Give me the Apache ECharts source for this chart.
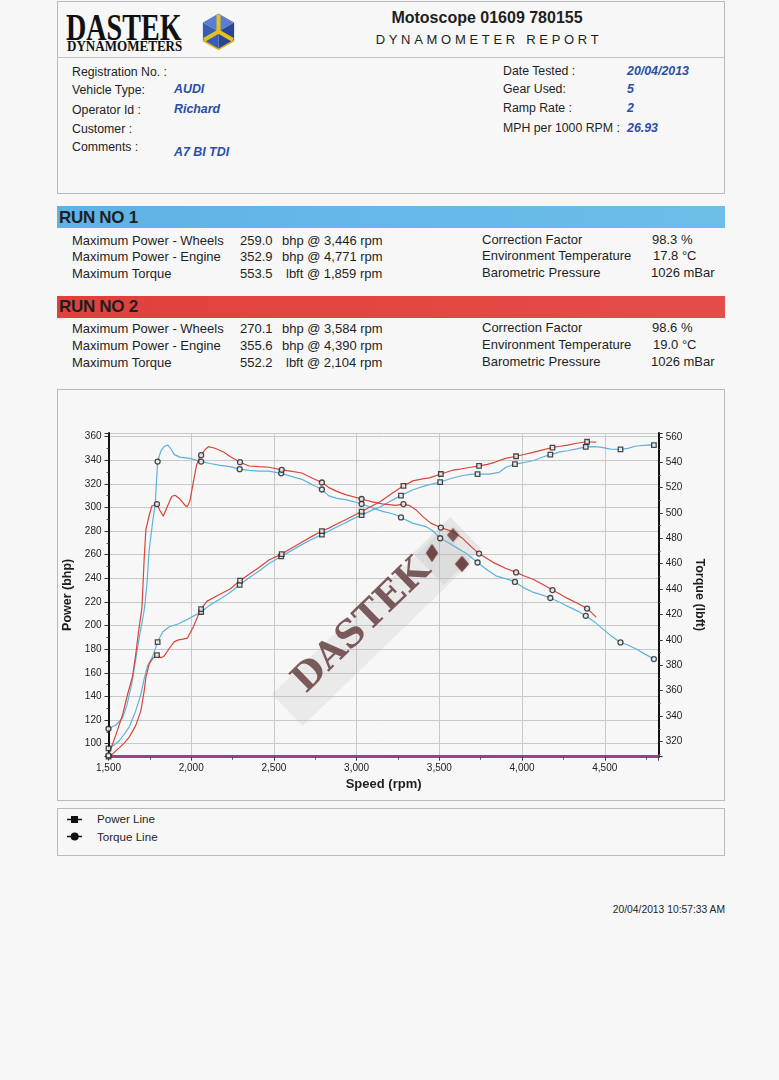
<!DOCTYPE html>
<html>
<head>
<meta charset="utf-8">
<script src="https://cdn.jsdelivr.net/npm/echarts@6.0.0/dist/echarts.min.js"></script>
<style>
  html, body { margin:0; padding:0; }
  body { width:779px; height:1080px; position:relative; overflow:hidden; background:#f6f7f6;
         font-family:"Liberation Sans", Arial, sans-serif; color:#1f1f1f; }
  .t { position:absolute; white-space:nowrap; line-height:16px; }
  .box { position:absolute; border:1px solid #b7bbbb; box-sizing:border-box; }
  .lbl { font-size:12.3px; }
  .val { font-size:12.4px; font-weight:bold; font-style:italic; color:#2c4ea6; }
  .row { font-size:13px; }
  .runbar { position:absolute; left:57px; width:668px; height:22px; }
  .runtitle { font-size:17px; font-weight:bold; letter-spacing:-0.3px; }
  #chart { position:absolute; left:0; top:0; width:779px; height:1080px; }
</style>
</head>
<body>
<!-- header box -->
<div class="box" style="left:57px;top:1px;width:668px;height:193px;"></div>
<div style="position:absolute;left:57px;top:57px;width:668px;height:1px;background:#c0c4c4;"></div>

<!-- logo -->
<div class="t" style="left:66px;top:9px;line-height:36px;font-family:'Liberation Serif',serif;font-weight:bold;font-size:38px;transform:scaleX(0.74);transform-origin:0 0;color:#111;">DASTEK</div>
<div class="t" style="left:67px;top:38px;line-height:16px;font-family:'Liberation Serif',serif;font-weight:bold;font-size:15px;transform:scaleX(0.87);transform-origin:0 0;color:#111;">DYNAMOMETERS</div>
<svg style="position:absolute;left:200px;top:12px;" width="38" height="40" viewBox="0 0 38 40">
  <polygon points="18.5,1.5 34.1,10.5 18.5,19.5 2.9,10.5" fill="#5b7fd0"/>
  <polygon points="2.9,10.5 18.5,19.5 18.5,37.5 2.9,28.5" fill="#3a5cb5"/>
  <polygon points="34.1,10.5 34.1,28.5 18.5,37.5 18.5,19.5" fill="#2b4596"/>
  <line x1="18.5" y1="19.5" x2="18.5" y2="2.5" stroke="#e3c21c" stroke-width="4"/>
  <line x1="18.5" y1="19.5" x2="4" y2="28" stroke="#e3c21c" stroke-width="4"/>
  <line x1="18.5" y1="19.5" x2="33" y2="28" stroke="#e3c21c" stroke-width="4"/>
  <polyline points="2.9,28.5 18.5,37.5 34.1,28.5" fill="none" stroke="#d8b81a" stroke-width="1.5"/>
</svg>

<div class="t" style="left:487px;top:10px;transform:translateX(-50%);font-size:16px;font-weight:bold;">Motoscope 01609 780155</div>
<div class="t" style="left:489px;top:32px;transform:translateX(-50%);font-size:13px;letter-spacing:3.7px;">DYNAMOMETER REPORT</div>

<div class="t lbl" style="left:72px;top:64px;">Registration No. :</div>
<div class="t lbl" style="left:72px;top:82px;">Vehicle Type:</div>
<div class="t lbl" style="left:72px;top:102px;">Operator Id :</div>
<div class="t lbl" style="left:72px;top:121px;">Customer :</div>
<div class="t lbl" style="left:72px;top:139px;">Comments :</div>
<div class="t val" style="left:174px;top:81px;">AUDI</div>
<div class="t val" style="left:174px;top:101px;">Richard</div>
<div class="t val" style="left:174px;top:144px;">A7 BI TDI</div>

<div class="t lbl" style="left:503px;top:63px;">Date Tested :</div>
<div class="t lbl" style="left:503px;top:81px;">Gear Used:</div>
<div class="t lbl" style="left:503px;top:100px;">Ramp Rate :</div>
<div class="t lbl" style="left:503px;top:120px;">MPH per 1000 RPM :</div>
<div class="t val" style="left:627px;top:63px;">20/04/2013</div>
<div class="t val" style="left:627px;top:81px;">5</div>
<div class="t val" style="left:627px;top:100px;">2</div>
<div class="t val" style="left:627px;top:120px;">26.93</div>

<!-- run 1 -->
<div class="runbar" style="top:206px;background:linear-gradient(to right,#5eb3e5,#6dbde9);"></div>
<div class="t runtitle" style="left:59px;top:209px;line-height:18px;">RUN NO 1</div>
<div class="t row" style="left:72px;top:233px;">Maximum Power - Wheels</div>
<div class="t row" style="left:72px;top:249px;">Maximum Power - Engine</div>
<div class="t row" style="left:72px;top:266px;">Maximum Torque</div>
<div class="t row" style="left:240px;top:233px;">259.0</div>
<div class="t row" style="left:240px;top:249px;">352.9</div>
<div class="t row" style="left:240px;top:266px;">553.5</div>
<div class="t row" style="left:282px;top:233px;">bhp @ 3,446 rpm</div>
<div class="t row" style="left:282px;top:249px;">bhp @ 4,771 rpm</div>
<div class="t row" style="left:286px;top:266px;">lbft @ 1,859 rpm</div>
<div class="t row" style="left:482px;top:232px;">Correction Factor</div>
<div class="t row" style="left:482px;top:248px;">Environment Temperature</div>
<div class="t row" style="left:482px;top:265px;">Barometric Pressure</div>
<div class="t row" style="left:652px;top:232px;">98.3 %</div>
<div class="t row" style="left:653px;top:248px;">17.8 °C</div>
<div class="t row" style="left:651px;top:265px;">1026 mBar</div>

<!-- run 2 -->
<div class="runbar" style="top:296px;background:linear-gradient(to right,#e1403c,#e44d48);"></div>
<div class="t runtitle" style="left:59px;top:298px;line-height:18px;">RUN NO 2</div>
<div class="t row" style="left:72px;top:321px;">Maximum Power - Wheels</div>
<div class="t row" style="left:72px;top:338px;">Maximum Power - Engine</div>
<div class="t row" style="left:72px;top:355px;">Maximum Torque</div>
<div class="t row" style="left:240px;top:321px;">270.1</div>
<div class="t row" style="left:240px;top:338px;">355.6</div>
<div class="t row" style="left:240px;top:355px;">552.2</div>
<div class="t row" style="left:282px;top:321px;">bhp @ 3,584 rpm</div>
<div class="t row" style="left:282px;top:338px;">bhp @ 4,390 rpm</div>
<div class="t row" style="left:286px;top:355px;">lbft @ 2,104 rpm</div>
<div class="t row" style="left:482px;top:320px;">Correction Factor</div>
<div class="t row" style="left:482px;top:337px;">Environment Temperature</div>
<div class="t row" style="left:482px;top:354px;">Barometric Pressure</div>
<div class="t row" style="left:652px;top:320px;">98.6 %</div>
<div class="t row" style="left:653px;top:337px;">19.0 °C</div>
<div class="t row" style="left:651px;top:354px;">1026 mBar</div>

<!-- chart box and legend box -->
<div class="box" style="left:57px;top:389px;width:668px;height:412px;"></div>
<div class="box" style="left:57px;top:808px;width:668px;height:48px;"></div>
<svg style="position:absolute;left:66px;top:813px;" width="18" height="30" viewBox="0 0 18 30">
  <line x1="1" y1="6.5" x2="16" y2="6.5" stroke="#111" stroke-width="1.5"/>
  <rect x="5" y="3" width="7" height="7" fill="#111"/>
  <line x1="1" y1="23.5" x2="16" y2="23.5" stroke="#111" stroke-width="1.5"/>
  <circle cx="8.7" cy="23.5" r="4" fill="#111"/>
</svg>
<div class="t" style="left:97px;top:811px;font-size:11.6px;">Power Line</div>
<div class="t" style="left:97px;top:829px;font-size:11.6px;">Torque Line</div>

<div class="t" style="left:725px;top:902px;transform:translateX(-100%);font-size:10.3px;">20/04/2013 10:57:33 AM</div>

<div id="chart"></div>

<script>
// ---- data (rpm, value) ----
const run1Power = [[1500,96],[1530,98.5],[1565,102.5],[1595,108],[1625,114],[1665,128],[1696,142],[1716,155],[1736,166],[1766,173.5],[1797,186],[1827,194.5],[1868,199],[1924,201.5],[1973,205],[2013,208],[2060,211.5],[2114,217.5],[2175,222.5],[2235,228],[2293,234.5],[2350,240.5],[2408,246],[2470,252.5],[2544,258.5],[2600,263],[2668,268.5],[2730,273],[2790,277],[2832,280],[2880,283.5],[2933,287],[2980,290.5],[3030,293.5],[3090,297.5],[3144,300.5],[3200,305],[3268,310],[3340,315],[3418,318.5],[3460,320],[3505,321.5],[3570,324.5],[3640,327],[3690,328],[3731,328.2],[3800,328.2],[3862,329.7],[3903,334],[3957,336.7],[4010,338],[4067,339.5],[4120,342.5],[4171,344.7],[4230,347],[4275,348],[4330,349.5],[4385,351.3],[4440,351.5],[4482,350.8],[4534,349.4],[4595,349.2],[4640,350],[4689,352],[4740,352.6],[4771,352.9],[4797,352.8]];
const run1Torque = [[1500,330],[1545,333],[1585,338.5],[1610,348],[1640,365],[1665,385],[1690,405],[1718,425],[1733,445],[1746,471],[1766,492],[1783,508],[1797,540.5],[1817,549],[1837,552.5],[1859,553.5],[1880,550],[1898,546],[1932,544],[1993,543],[2060,540.5],[2114,539],[2175,537.5],[2235,536.5],[2293,534.5],[2350,533.5],[2408,533],[2470,533],[2544,531.2],[2600,529],[2668,526.5],[2730,522.5],[2790,518.5],[2832,513.5],[2880,511.5],[2933,510.5],[2980,509],[3030,507.1],[3095,504],[3155,501.3],[3200,500],[3236,498.6],[3268,496.5],[3337,492],[3418,489.3],[3460,486],[3505,480.1],[3550,477],[3600,473],[3661,468.2],[3731,461],[3790,455],[3842,450.5],[3883,448.9],[3920,447.5],[3957,445.7],[4010,441],[4064,437.7],[4120,435.5],[4171,433],[4230,429.5],[4286,425.8],[4340,422.5],[4385,419],[4440,414],[4488,408.7],[4540,403],[4595,398],[4640,396],[4690,392.8],[4740,389],[4797,384.9]];
const run2Power = [[1500,89],[1530,92],[1565,96.5],[1595,100.5],[1625,105.5],[1665,115.5],[1696,128],[1716,145],[1726,156],[1746,167.5],[1766,172],[1793,175],[1817,172.8],[1837,174.3],[1868,180.8],[1898,186.4],[1924,187.9],[1950,188.5],[1977,189.3],[2013,199],[2040,208],[2060,214],[2094,220.5],[2154,225],[2235,231],[2295,238],[2350,243.5],[2408,249],[2470,255.5],[2547,260.5],[2600,265],[2668,270.5],[2730,275.5],[2790,280],[2832,282.5],[2880,286],[2933,289.5],[3030,296.5],[3090,301],[3144,305],[3210,311.5],[3283,318.3],[3340,322.5],[3398,324.2],[3440,325],[3509,328.3],[3580,331.5],[3627,332.5],[3690,334],[3740,335.2],[3790,336.5],[3834,338.2],[3900,341.5],[3964,343.3],[4010,344.8],[4067,346.6],[4120,348.5],[4184,350.7],[4230,351.8],[4275,352.8],[4330,354.3],[4393,355.6],[4420,355.4],[4448,355.2]];
const run2Torque = [[1500,309],[1544,325],[1585,341],[1615,357],[1645,371],[1665,389],[1682,407],[1702,425],[1716,465],[1726,487],[1746,498],[1762,505.5],[1793,507],[1811,502],[1831,497.5],[1857,505.5],[1882,513],[1902,514],[1932,511],[1963,506],[1977,505],[1993,510],[2013,524.5],[2033,538],[2049,543.5],[2060,545.5],[2084,550],[2104,552.2],[2144,551],[2195,548],[2235,544.5],[2295,540],[2350,537],[2408,536.5],[2470,536],[2547,534],[2600,533],[2668,531.5],[2730,527.5],[2790,524],[2832,520],[2880,517],[2933,514.5],[3030,511],[3095,508.7],[3155,507.2],[3236,506],[3283,507],[3317,506],[3358,502.6],[3398,497.3],[3448,492],[3509,488.5],[3580,485.4],[3640,480],[3700,472.5],[3740,468],[3790,464],[3834,460.5],[3900,456.5],[3964,453.2],[4010,450.5],[4067,447.8],[4120,444],[4184,439.3],[4230,436],[4275,432.7],[4340,428.5],[4393,424.7],[4420,421.5],[4448,418]];
const run1MarkerRpm = [1500,1797,2060,2293,2544,2790,3030,3268,3505,3731,3957,4171,4385,4595,4797];
const run2MarkerRpm = [1500,1793,2060,2295,2547,2790,3030,3283,3509,3740,3964,4184,4393];

const rpmRange = [1500, 4826];
const powerRange = [89, 363];
const torqueRange = [308, 563];

const BLUE = '#5fb2dc', RED = '#d9443b';

function pick(curve, rpms) {
  return rpms.map(r => curve.find(p => p[0] === r)).filter(Boolean);
}
function lineSeries(name, data, color, yIdx) {
  return { name, type:'line', data, yAxisIndex:yIdx, symbol:'none', smooth:false,
           lineStyle:{color, width:1.2}, itemStyle:{color}, animation:false, z:3 };
}
function markerSeries(data, yIdx, symbol) {
  return { type:'scatter', data, yAxisIndex:yIdx, symbol, symbolSize: symbol==='rect'?4.5:5,
           itemStyle:{color:'#f2f2f2', borderColor:'#1e1e1e', borderWidth:1.3}, animation:false, z:5 };
}

const chart = echarts.init(document.getElementById('chart'), null, {renderer:'canvas'});
const font = 'Liberation Sans';
const wm = 'rgba(92,52,52,0.8)';
chart.setOption({
  backgroundColor:'transparent',
  animation:false,
  grid:{left:108.5, right:120.3, top:433, bottom:323.3, containLabel:false},
  xAxis:{
    type:'value', min:rpmRange[0], max:rpmRange[1], interval:500,
    axisLine:{show:true, onZero:false, lineStyle:{color:'#9e3f87', width:3}},
    axisTick:{show:true, length:4, lineStyle:{color:'#444'}},
    minorTick:{show:true, splitNumber:2, length:3, lineStyle:{color:'#555'}},
    axisLabel:{fontSize:10, color:'#222', fontFamily:font, margin:7, showMaxLabel:false,
               formatter:v => v.toLocaleString('en-US')},
    splitLine:{show:true, lineStyle:{color:'#c6c9c9', width:1}},
    name:'Speed (rpm)', nameLocation:'middle', nameGap:21,
    nameTextStyle:{fontWeight:'bold', fontSize:13, color:'#1e1e1e', fontFamily:font}
  },
  yAxis:[{
    type:'value', position:'left', min:powerRange[0], max:powerRange[1], splitNumber:13,
    axisLine:{show:true, lineStyle:{color:'#111', width:2}},
    axisTick:{show:true, length:4, lineStyle:{color:'#333'}},
    minorTick:{show:true, splitNumber:2, length:2, lineStyle:{color:'#555'}},
    axisLabel:{fontSize:10, color:'#222', fontFamily:font, margin:7, showMinLabel:false, showMaxLabel:false},
    splitLine:{show:true, lineStyle:{color:'#c6c9c9', width:1}},
    name:'Power (bhp)', nameLocation:'middle', nameGap:27,
    nameTextStyle:{fontWeight:'bold', fontSize:12.5, color:'#1e1e1e', fontFamily:font}
  },{
    type:'value', position:'right', min:torqueRange[0], max:torqueRange[1], splitNumber:12,
    axisLine:{show:true, lineStyle:{color:'#111', width:2}},
    axisTick:{show:true, length:4, lineStyle:{color:'#333'}},
    minorTick:{show:true, splitNumber:2, length:2, lineStyle:{color:'#555'}},
    axisLabel:{fontSize:10, color:'#222', fontFamily:font, margin:7, showMinLabel:false, showMaxLabel:false},
    splitLine:{show:false},
    name:'Torque (lbft)', nameLocation:'middle', nameGap:28, nameRotate:-90,
    nameTextStyle:{fontWeight:'bold', fontSize:12.5, color:'#1e1e1e', fontFamily:font}
  }],
  graphic:[
    {type:'rect', x:372, y:628, rotation:0.77,
     shape:{x:-118, y:-22, width:236, height:44}, style:{fill:'rgba(185,185,185,0.2)'}, z:1},
    {type:'rect', x:447, y:551, rotation:0.77,
     shape:{x:-26, y:-22, width:52, height:44}, style:{fill:'rgba(180,180,180,0.26)'}, z:1},
    {type:'text', x:362, y:626, rotation:0.77, z:4,
     style:{text:'DASTEK', font:'bold 37px "DejaVu Serif"', fill:wm,
            align:'center', verticalAlign:'middle', shadowBlur:3, shadowColor:'rgba(160,70,70,0.7)'}},
    {type:'polygon', z:4, shape:{points:[[432,544],[438,553],[432,562],[426,553]]}, style:{fill:wm, shadowBlur:2, shadowColor:'rgba(140,60,60,0.6)'}},
    {type:'polygon', z:4, shape:{points:[[462,556],[469,564],[462,572],[455,564]]}, style:{fill:wm, shadowBlur:2, shadowColor:'rgba(140,60,60,0.6)'}},
    {type:'polygon', z:4, shape:{points:[[453,528],[459,535],[453,542],[447,535]]}, style:{fill:'rgba(92,52,52,0.7)', shadowBlur:3, shadowColor:'rgba(140,60,60,0.6)'}}
  ],
  series:[
    lineSeries('Run 1 Power', run1Power, BLUE, 0),
    lineSeries('Run 1 Torque', run1Torque, BLUE, 1),
    lineSeries('Run 2 Power', run2Power, RED, 0),
    lineSeries('Run 2 Torque', run2Torque, RED, 1),
    markerSeries(pick(run1Power, run1MarkerRpm), 0, 'rect'),
    markerSeries(pick(run1Torque, run1MarkerRpm), 1, 'circle'),
    markerSeries(pick(run2Power, run2MarkerRpm), 0, 'rect'),
    markerSeries(pick(run2Torque, run2MarkerRpm), 1, 'circle')
  ]
});
</script>
</body>
</html>
